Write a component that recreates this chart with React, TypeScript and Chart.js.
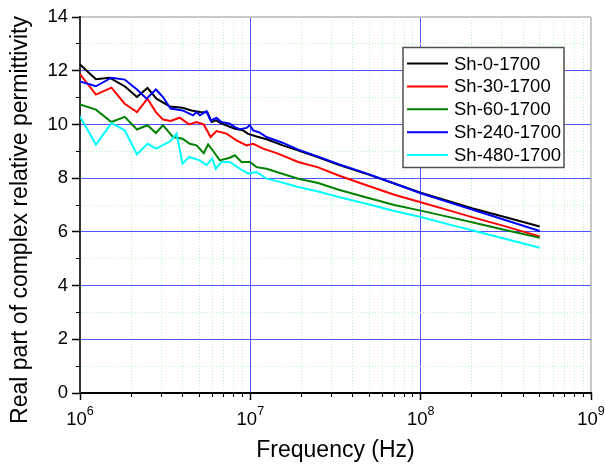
import React, { useEffect, useRef } from "react";
import { Chart, registerables } from "chart.js";

Chart.register(...registerables);

// ---------- data (frequency in MHz, real part of relative permittivity) ----------
const SERIES_NAMES = ["Sh-0-1700", "Sh-30-1700", "Sh-60-1700", "Sh-240-1700", "Sh-480-1700"];
const SERIES_COLORS = ["#000000", "#ff0000", "#008000", "#0000ff", "#00ffff"];

const FREQ_SH0 = [1.0, 1.24, 1.49, 1.83, 2.16, 2.49, 2.81, 3.37, 4.0, 4.51, 5.05, 5.6, 5.92, 6.3, 6.62, 7.2, 8.11, 9.07, 9.71, 10.88, 12.45, 15.5, 19.0, 25, 33, 50, 70, 100, 150, 200, 300, 400, 500];
const EPS_SH0 = [12.23, 11.68, 11.74, 11.42, 11.02, 11.36, 10.96, 10.67, 10.62, 10.52, 10.46, 10.45, 10.09, 10.15, 10.07, 9.97, 9.84, 9.78, 9.65, 9.55, 9.45, 9.22, 9.04, 8.78, 8.5, 8.12, 7.8, 7.46, 7.12, 6.88, 6.58, 6.37, 6.2];

const FREQ_SH30 = [1.0, 1.24, 1.53, 1.83, 2.16, 2.49, 2.79, 3.07, 3.40, 3.85, 4.37, 4.83, 5.33, 5.84, 6.33, 7.25, 8.30, 9.50, 10.39, 11.89, 14.26, 19.1, 25, 33, 50, 70, 100, 150, 200, 300, 400, 500];
const EPS_SH30 = [11.87, 11.11, 11.37, 10.77, 10.46, 10.96, 10.46, 10.18, 10.13, 10.25, 10.0, 10.09, 10.0, 9.53, 9.75, 9.66, 9.41, 9.22, 9.28, 9.1, 8.93, 8.6, 8.4, 8.1, 7.7, 7.38, 7.1, 6.78, 6.55, 6.24, 6.01, 5.83];

const FREQ_SH60 = [1.0, 1.24, 1.53, 1.83, 2.16, 2.49, 2.79, 3.07, 3.52, 4.0, 4.41, 4.83, 5.33, 5.65, 6.05, 6.62, 7.58, 8.11, 8.88, 9.93, 10.88, 12.45, 14.91, 19.1, 25, 33, 50, 70, 100, 150, 200, 300, 400, 500];
const EPS_SH60 = [10.74, 10.55, 10.09, 10.28, 9.81, 9.97, 9.68, 9.97, 9.53, 9.47, 9.28, 9.22, 8.93, 9.26, 9.01, 8.66, 8.76, 8.85, 8.6, 8.6, 8.41, 8.35, 8.19, 7.98, 7.82, 7.57, 7.25, 7.0, 6.79, 6.54, 6.36, 6.1, 5.92, 5.78];

const FREQ_SH240 = [1.0, 1.24, 1.53, 1.83, 2.16, 2.46, 2.79, 3.07, 3.40, 4.0, 4.61, 4.83, 5.05, 5.53, 5.84, 6.33, 6.77, 7.58, 8.11, 8.68, 9.50, 9.93, 10.39, 11.3, 12.45, 15.58, 19.1, 25, 33, 50, 70, 100, 150, 200, 300, 400, 500];
const EPS_SH240 = [11.6, 11.42, 11.74, 11.67, 11.3, 10.96, 11.3, 11.02, 10.59, 10.52, 10.34, 10.46, 10.34, 10.49, 10.15, 10.24, 10.09, 10.03, 9.9, 9.82, 9.87, 9.97, 9.78, 9.7, 9.53, 9.31, 9.06, 8.8, 8.52, 8.14, 7.8, 7.44, 7.08, 6.83, 6.48, 6.23, 6.03];

const FREQ_SH480 = [1.0, 1.24, 1.53, 1.83, 2.16, 2.49, 2.81, 3.40, 3.69, 4.0, 4.37, 5.05, 5.53, 5.97, 6.27, 6.77, 7.58, 8.68, 9.71, 10.88, 12.45, 14.91, 19.1, 25, 33, 50, 70, 100, 150, 200, 300, 400, 500];
const EPS_SH480 = [10.3, 9.25, 10.05, 9.78, 8.89, 9.28, 9.1, 9.38, 9.66, 8.54, 8.79, 8.66, 8.48, 8.73, 8.35, 8.6, 8.6, 8.35, 8.17, 8.23, 7.98, 7.86, 7.67, 7.5, 7.3, 7.02, 6.78, 6.55, 6.26, 6.06, 5.77, 5.57, 5.41];

const SERIES_FREQ = [FREQ_SH0, FREQ_SH30, FREQ_SH60, FREQ_SH240, FREQ_SH480];
const SERIES_EPS = [EPS_SH0, EPS_SH30, EPS_SH60, EPS_SH240, EPS_SH480];

// axis ticks
const X_DECADES = [6, 7, 8, 9];
const X_MULTIPLIERS = [1, 2, 3, 4, 5, 6, 7, 8, 9];
const Y_MIN = 0;
const Y_MAX = 14;

const X_TITLE = "Frequency (Hz)";
const Y_TITLE = "Real part of complex relative permittivity";

// ---------- styles ----------
const FAM = "'Liberation Sans', Arial, Helvetica, sans-serif";
const MAJOR_GRID = "#5252ff";
const MINOR_GRID = "#bdf2bd";
const FRAME = "#c8c8c8";

const X_TICK_VALUES: number[] = [];
X_DECADES.forEach((d, i) => {
  if (i === X_DECADES.length - 1) {
    X_TICK_VALUES.push(Math.pow(10, d));
  } else {
    X_MULTIPLIERS.forEach((m) => X_TICK_VALUES.push(m * Math.pow(10, d)));
  }
});

const isDecade = (v: number) => {
  const e = Math.log10(v);
  return Math.abs(e - Math.round(e)) < 1e-9;
};

const alignPx = (p: number, w: number) => Math.round(p - w / 2) + w / 2;

const decorPlugin = {
  id: "decor",
  afterDraw(chart: any) {
    const { ctx, chartArea } = chart;
    const xs = chart.scales.x;
    const ys = chart.scales.y;
    ctx.save();

    // x tick marks
    ctx.strokeStyle = "#000";
    for (const t of xs.ticks) {
      const major = isDecade(t.value);
      const w = major ? 1.5 : 1;
      const px = alignPx(xs.getPixelForValue(t.value), 1);
      ctx.lineWidth = w;
      ctx.beginPath();
      ctx.moveTo(px, chartArea.bottom);
      ctx.lineTo(px, chartArea.bottom + (major ? 7 : 4));
      ctx.stroke();
    }
    // y tick marks
    for (const t of ys.ticks) {
      const major = t.value % 2 === 0;
      const py = alignPx(ys.getPixelForValue(t.value), 1);
      ctx.lineWidth = major ? 1.5 : 1;
      ctx.beginPath();
      ctx.moveTo(chartArea.left, py);
      ctx.lineTo(chartArea.left - (major ? 8 : 4), py);
      ctx.stroke();
    }

    // x tick labels 10^n
    ctx.fillStyle = "#000";
    ctx.textBaseline = "alphabetic";
    ctx.textAlign = "left";
    for (const d of X_DECADES) {
      const px = xs.getPixelForValue(Math.pow(10, d));
      ctx.font = `18.5px ${FAM}`;
      const w1 = ctx.measureText("10").width;
      ctx.font = `12.5px ${FAM}`;
      const sup = String(d);
      const w2 = ctx.measureText(sup).width;
      const start = px - (w1 + w2) / 2;
      ctx.font = `18.5px ${FAM}`;
      ctx.fillText("10", start, chartArea.bottom + 32);
      ctx.font = `12.5px ${FAM}`;
      ctx.fillText(sup, start + w1, chartArea.bottom + 22);
    }

    // y title
    ctx.save();
    ctx.translate(21, 220);
    ctx.rotate(-Math.PI / 2);
    ctx.textAlign = "center";
    ctx.textBaseline = "middle";
    ctx.font = `23px ${FAM}`;
    ctx.fillText(Y_TITLE, 0, 0);
    ctx.restore();

    // legend
    const bx = 403, by = 47.5, bw = 161, bh = 120;
    ctx.fillStyle = "#fff";
    ctx.fillRect(bx, by, bw, bh);
    ctx.strokeStyle = "#505050";
    ctx.lineWidth = 1.5;
    ctx.strokeRect(bx, by, bw, bh);
    chart.data.datasets.forEach((ds: any, i: number) => {
      const yy = 63.5 + i * 22.9;
      ctx.strokeStyle = ds.borderColor;
      ctx.lineWidth = 2;
      ctx.beginPath();
      ctx.moveTo(407, yy);
      ctx.lineTo(448, yy);
      ctx.stroke();
      ctx.fillStyle = "#000";
      ctx.font = `18.5px ${FAM}`;
      ctx.textAlign = "left";
      ctx.textBaseline = "middle";
      ctx.fillText(ds.label, 454, yy + 1);
    });

    ctx.restore();
  },
};

export default function App() {
  const canvasRef = useRef<HTMLCanvasElement | null>(null);

  useEffect(() => {
    if (!canvasRef.current) return;
    const datasets = SERIES_NAMES.map((name, i) => ({
      label: name,
      data: SERIES_FREQ[i].map((f, j) => ({ x: f * 1e6, y: SERIES_EPS[i][j] })),
      borderColor: SERIES_COLORS[i],
      backgroundColor: SERIES_COLORS[i],
      borderWidth: 2,
      pointRadius: 0,
      fill: false,
      tension: 0,
      order: SERIES_NAMES.length - i,
    }));

    const chart = new Chart(canvasRef.current, {
      type: "line",
      data: { datasets },
      options: {
        animation: false,
        responsive: false,
        events: [],
        layout: { padding: { top: 17, right: 14, bottom: 0, left: 0 } },
        plugins: {
          legend: { display: false },
          tooltip: { enabled: false },
          title: { display: false },
        },
        scales: {
          x: {
            type: "logarithmic",
            min: 1e6,
            max: 1e9,
            afterBuildTicks: (scale: any) => {
              scale.ticks = X_TICK_VALUES.map((v) => ({ value: v, major: isDecade(v) }));
            },
            afterFit: (scale: any) => {
              scale.height = 72;
            },
            ticks: { autoSkip: false, maxRotation: 0, callback: () => "" },
            grid: {
              color: (ctx: any) => {
                const v = ctx.tick?.value;
                if (v == null) return "rgba(0,0,0,0)";
                if (!isDecade(v)) return MINOR_GRID;
                if (v <= 1e6) return "rgba(0,0,0,0)";
                if (v >= 1e9) return FRAME;
                return MAJOR_GRID;
              },
              lineWidth: (ctx: any) => (ctx.tick && ctx.tick.value >= 1e9 ? 2 : 1),
              drawTicks: true,
              tickLength: 8,
              tickColor: "rgba(0,0,0,0)",
            },
            border: {
              display: true,
              color: "#000",
              width: 2,
              dash: (ctx: any) => (ctx.tick && !isDecade(ctx.tick.value) ? [1, 2] : []),
            },
            title: {
              display: true,
              text: X_TITLE,
              color: "#000",
              font: { family: FAM, size: 23 },
              padding: { top: 0, bottom: 1 },
            },
          },
          y: {
            min: Y_MIN,
            max: Y_MAX,
            afterFit: (scale: any) => {
              scale.width = 80;
            },
            ticks: {
              stepSize: 1,
              autoSkip: false,
              color: "#000",
              padding: 4,
              font: { family: FAM, size: 18.5 },
              callback: (v: any) => (Number(v) % 2 === 0 ? String(v) : ""),
            },
            grid: {
              color: (ctx: any) => {
                const v = ctx.tick?.value;
                if (v == null || v === Y_MIN) return "rgba(0,0,0,0)";
                if (v === Y_MAX) return FRAME;
                return v % 2 === 0 ? MAJOR_GRID : MINOR_GRID;
              },
              lineWidth: (ctx: any) => (ctx.tick && ctx.tick.value === Y_MAX ? 2 : 1),
              drawTicks: true,
              tickLength: 8,
              tickColor: "rgba(0,0,0,0)",
            },
            border: {
              display: true,
              color: "#333",
              width: 2,
              dash: (ctx: any) => (ctx.tick && ctx.tick.value % 2 !== 0 ? [1, 2] : []),
            },
          },
        },
      } as any,
      plugins: [decorPlugin],
    });
    return () => chart.destroy();
  }, []);

  return (
    <div style={{ position: "fixed", left: 0, top: 0, width: 605, height: 465, background: "#fff" }}>
      <canvas ref={canvasRef} width={605} height={465} style={{ display: "block" }} />
    </div>
  );
}
